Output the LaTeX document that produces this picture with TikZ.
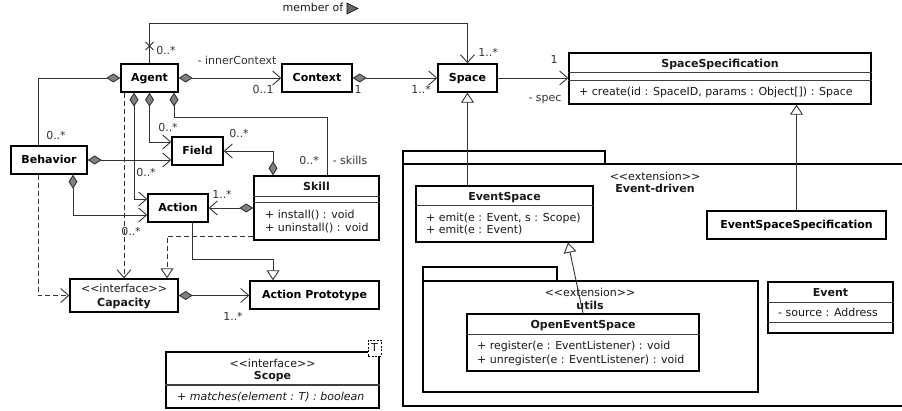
\documentclass[tikz,border=0pt]{standalone}
\usepackage{fontspec}
\setmainfont{DejaVu Sans}
\usetikzlibrary{arrows.meta,calc}
\newcommand\stL{<\kern0pt<}
\newcommand\stR{>\kern0pt>}
\begin{document}
\begin{tikzpicture}[x=1pt,y=-1pt,
  txt/.style={font=\fontsize{11}{13}\selectfont, inner sep=0pt, text height=8pt, text depth=0pt, text=black!90},
  bft/.style={txt, font=\fontsize{11}{13}\selectfont\bfseries},
  itt/.style={txt, font=\fontsize{11}{13}\selectfont\itshape},
  cls/.style={draw=black, line width=1.4pt, fill=white, inner sep=0pt},
  clsb/.style={cls, bft, text=black},
  sep/.style={draw=black!75, line width=1pt},
  pkg/.style={draw=black, line width=1.4pt},
  conn/.style={draw=black!80, line width=0.9pt},
  comp/.style={conn, {Diamond[length=14pt,width=9pt,fill=black!50]}-{Straight Barb[length=8pt,width=14pt]}},
  compn/.style={conn, {Diamond[length=14pt,width=9pt,fill=black!50]}-},
  assoc/.style={conn, -{Straight Barb[length=8pt,width=14pt]}},
  dep/.style={assoc, dash pattern=on 5pt off 3pt},
  gen/.style={conn, -{Triangle[open,length=10pt,width=13pt,fill=white]}},
  real/.style={gen, dash pattern=on 5pt off 3pt},
  mult/.style={txt, text=black!80}]
\clip (0,0) rectangle (902,411);
\fill[white] (0,0) rectangle (902,411);

% packages
\draw[pkg] (403,151) rectangle (605,164);
\draw[pkg] (403,164) rectangle (910,406);
\node[txt] (p1s) at (655,177) {\stL extension\stR};
\node[bft] (p1t) at (655,189) {Event-driven};
\draw[pkg] (423,267) rectangle (557,281);
\draw[pkg] (423,281) rectangle (758,392);
\node[txt] (p2s) at (590,293) {\stL extension\stR};
\node[bft] (p2t) at (590,306) {utils};

% simple classes
\node[clsb, minimum width=57pt, minimum height=28pt] (agent) at (149.5,78) {Agent};
\node[clsb, minimum width=70pt, minimum height=28pt] (context) at (317,78) {Context};
\node[clsb, minimum width=59pt, minimum height=28pt] (space) at (467.5,78) {Space};
\node[clsb, minimum width=76pt, minimum height=28pt] (behavior) at (49,160) {Behavior};
\node[clsb, minimum width=51pt, minimum height=28pt] (field) at (197.5,151) {Field};
\node[clsb, minimum width=60pt, minimum height=28pt] (action) at (178,208) {Action};
\node[clsb, minimum width=129pt, minimum height=28pt] (ap) at (314.5,295) {Action Prototype};
\node[clsb, minimum width=179pt, minimum height=28pt] (ess) at (796.5,225) {EventSpaceSpecification};

% SpaceSpecification
\node[cls, minimum width=302pt, minimum height=51pt] (spec) at (720,78.5) {};
\node[bft] (specT) at (720,64) {SpaceSpecification};
\draw[sep] (spec.west |- 0,73) -- (spec.east |- 0,73);
\draw[sep] (spec.west |- 0,81) -- (spec.east |- 0,81);
\node[txt, anchor=west] (specM) at (579,92) {+ create(id : SpaceID, params : Object[]) : Space};

% Skill
\node[cls, minimum width=125pt, minimum height=64pt] (skill) at (316.5,208) {};
\node[bft] (skillT) at (316.5,187) {Skill};
\draw[sep] (skill.west |- 0,197) -- (skill.east |- 0,197);
\draw[sep] (skill.west |- 0,203) -- (skill.east |- 0,203);
\node[txt, anchor=west] (skillM1) at (265,215) {+ install() : void};
\node[txt, anchor=west] (skillM2) at (265,228) {+ uninstall() : void};

% Capacity
\node[cls, minimum width=108pt, minimum height=33pt] (cap) at (124,295.5) {};
\node[txt] (capS) at (124,289) {\stL interface\stR};
\node[bft] (capT) at (124,303) {Capacity};

% Scope
\node[cls, minimum width=213pt, minimum height=56pt] (scope) at (272.5,380) {};
\node[txt] (scopeS) at (272.5,363) {\stL interface\stR};
\node[bft] (scopeT) at (272.5,376) {Scope};
\draw[sep] (scope.west |- 0,385) -- (scope.east |- 0,385);
\node[itt, anchor=west] (scopeM) at (177,396) {+ matches(element : T) : boolean};
\node[draw=black, line width=0.8pt, dash pattern=on 2pt off 1.5pt, fill=white, inner sep=0pt, minimum width=13pt, minimum height=16pt, txt] (scopeP) at (374.5,348) {T};

% EventSpace
\node[cls, minimum width=177pt, minimum height=56pt] (es) at (504.5,214) {};
\node[bft] (esT) at (504.5,197) {EventSpace};
\draw[sep] (es.west |- 0,206) -- (es.east |- 0,206);
\node[txt, anchor=west] (esM1) at (426,218) {+ emit(e : Event, s : Scope)};
\node[txt, anchor=west] (esM2) at (426,230) {+ emit(e : Event)};

% OpenEventSpace
\node[cls, minimum width=232pt, minimum height=57pt] (oes) at (583,342.5) {};
\node[bft] (oesT) at (583,325) {OpenEventSpace};
\draw[sep] (oes.west |- 0,335) -- (oes.east |- 0,335);
\node[txt, anchor=west] (oesM1) at (477,346) {+ register(e : EventListener) : void};
\node[txt, anchor=west] (oesM2) at (477,359) {+ unregister(e : EventListener) : void};

% Event
\node[cls, minimum width=125pt, minimum height=51pt] (ev) at (830.5,307.5) {};
\node[bft] (evT) at (830.5,293) {Event};
\draw[sep] (ev.west |- 0,303) -- (ev.east |- 0,303);
\node[txt, anchor=west] (evA) at (778,313) {- source : Address};
\draw[sep] (ev.west |- 0,323) -- (ev.east |- 0,323);

% connectors
\draw[assoc] (agent.north) -- (agent.north |- 0,23) -| (space.north);
\draw[conn] (145.5,42) -- (153.5,50) (153.5,42) -- (145.5,50);
\node[txt] (memberof) at (313,8) {member of};
\draw[draw=black, fill=black!60, line width=0.6pt] (347,3) -- (358,8.5) -- (347,14) -- cycle;

\draw[comp] (agent.east) -- (context.west);
\draw[comp] (context.east) -- (space.west);
\draw[assoc] (space.east) -- (space.east -| spec.west);
\draw[gen] (ess.north) -- (ess.north |- spec.south);
\draw[gen] (space.south |- es.north) -- (space.south);
\draw[gen] (oes.north) -- ($(es.south)+(63.5,0)$);

\draw[compn] (agent.west) -| ($(behavior.north)+(-11,0)$);
\draw[comp] (agent.south) |- ($(field.west)+(0,-9)$);
\draw[comp] (behavior.east) -- (behavior.east -| field.west);
\draw[comp] ($(skill.north)+(-43.5,0)$) |- (field.east);
\draw[compn] ($(agent.south)+(24.5,0)$) -- ++(0,25) -| ($(skill.north)+(10.5,0)$);
\draw[comp] ($(agent.south)+(-15.5,0)$) |- ($(action.west)+(0,-9)$);
\draw[comp] ($(behavior.south)+(24,0)$) |- ($(action.west)+(0,7)$);
\draw[comp] (skill.west) -- (skill.west -| action.east);
\draw[dep] (agent.south -| cap.north) -- (cap.north);
\draw[dep] ($(behavior.south)+(-11,0)$) |- (cap.west);
\draw[real] ($(skill.west)+(0,28)$) -| ($(cap.north)+(43,0)$);
\draw[gen] ($(action.south)+(14,0)$) -- ++(0,37) -| ($(ap.north)+(-41.5,0)$);
\draw[comp] (cap.east) -- (cap.east -| ap.west);

% labels
\node[mult] (l1) at (166,51) {0..*};
\node[mult] (l2) at (488,53) {1..*};
\node[mult] (l3) at (237,61) {- innerContext};
\node[mult] (l4) at (263,90) {0..1};
\node[mult] (l5) at (358,90) {1};
\node[mult] (l6) at (421,90) {1..*};
\node[mult] (l7) at (554,60) {1};
\node[mult] (l8) at (545,98) {- spec};
\node[mult] (l9) at (56,136) {0..*};
\node[mult] (l10) at (168,128) {0..*};
\node[mult] (l11) at (239,134) {0..*};
\node[mult] (l12) at (309,161) {0..*};
\node[mult] (l13) at (350,161) {- skills};
\node[mult] (l14) at (146,173) {0..*};
\node[mult] (l15) at (222,195) {1..*};
\node[mult] (l16) at (131,232) {0..*};
\node[mult] (l17) at (233,317) {1..*};
\end{tikzpicture}
\end{document}
